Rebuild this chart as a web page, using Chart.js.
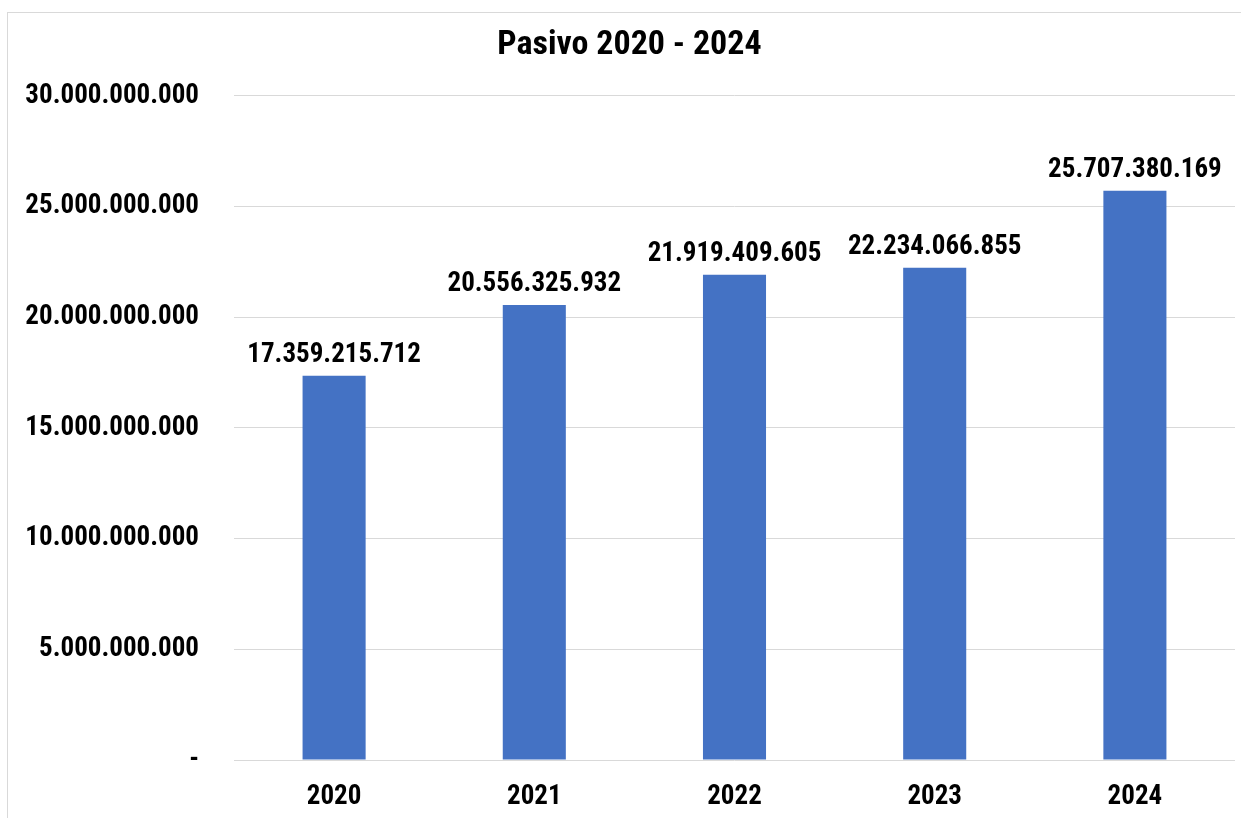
<!DOCTYPE html>
<html>
<head>
<meta charset="utf-8">
<script src="https://cdn.jsdelivr.net/npm/chart.js@4.4.1/dist/chart.umd.min.js"></script>
<style>
  html, body { margin: 0; padding: 0; background: #fff; overflow: hidden; }
  #wrap { position: relative; width: 1241px; height: 818px; }
  #frame { position: absolute; left: 7px; top: 12px; width: 1300px; height: 900px; border: 1px solid #d9d9d9; pointer-events: none; }
  canvas { position: absolute; left: 0; top: 0; }
</style>
</head>
<body>
<div id="wrap">
  <div id="frame"></div>
  <canvas id="myChart" width="1241" height="818"></canvas>
</div>
<script>
const years = ['2020', '2021', '2022', '2023', '2024']
const pasivo = [17359215712, 20556325932, 21919409605, 22234066855, 25707380169]
const yMax = 30000000000
const yStep = 5000000000

const FONT = "'Roboto Condensed', 'Liberation Sans', sans-serif"
const SIZE = 27

function fmt(v) {
    if (v === 0) return '-'
    return String(Math.round(v)).replace(/\B(?=(\d{3})+(?!\d))/g, '.')
}

// value labels above each bar
const barLabels = {
    id: 'barLabels',
    afterDatasetsDraw(chart) {
        const ctx = chart.ctx
        const meta = chart.getDatasetMeta(0)
        ctx.save()
        ctx.font = 'bold ' + SIZE + 'px ' + FONT
        ctx.fillStyle = '#000'
        ctx.textAlign = 'center'
        ctx.textBaseline = 'alphabetic'
        meta.data.forEach((bar, i) => {
            ctx.fillText(fmt(pasivo[i]), bar.x, bar.y - 14)
        })
        ctx.restore()
    }
}

const canvas = document.getElementById('myChart')
const myChart = new Chart(canvas, {
    type: 'bar',
    data: {
        labels: years,
        datasets: [{
            label: 'Pasivo',
            data: pasivo,
            backgroundColor: '#4472C4',
            barPercentage: 0.315,
            categoryPercentage: 1
        }]
    },
    options: {
        responsive: false,
        animation: false,
        layout: { padding: { top: 0, left: 24, right: 6, bottom: 3 } },
        plugins: {
            legend: { display: false },
            tooltip: { enabled: false },
            title: {
                display: true,
                text: 'Pasivo 2020 - 2024',
                color: '#000',
                font: { family: FONT, size: 34, weight: 'bold', lineHeight: 1.2 },
                padding: { top: 25, bottom: 30 }
            }
        },
        scales: {
            x: {
                afterFit(scale) { scale.height = 55 },
                grid: { display: false, drawTicks: false },
                border: { display: false },
                ticks: {
                    color: '#000',
                    padding: 21,
                    font: { family: FONT, size: SIZE, weight: 'bold', lineHeight: 1.2 }
                }
            },
            y: {
                min: 0,
                max: yMax,
                afterFit(scale) { scale.width = 210 },
                grid: { color: '#d9d9d9', lineWidth: 1, drawTicks: false },
                border: { display: false },
                ticks: {
                    stepSize: yStep,
                    color: '#000',
                    padding: 35,
                    font: { family: FONT, size: SIZE, weight: 'bold', lineHeight: 1.2 },
                    callback: (v) => fmt(v)
                }
            }
        }
    },
    plugins: [barLabels]
})
</script>
</body>
</html>
